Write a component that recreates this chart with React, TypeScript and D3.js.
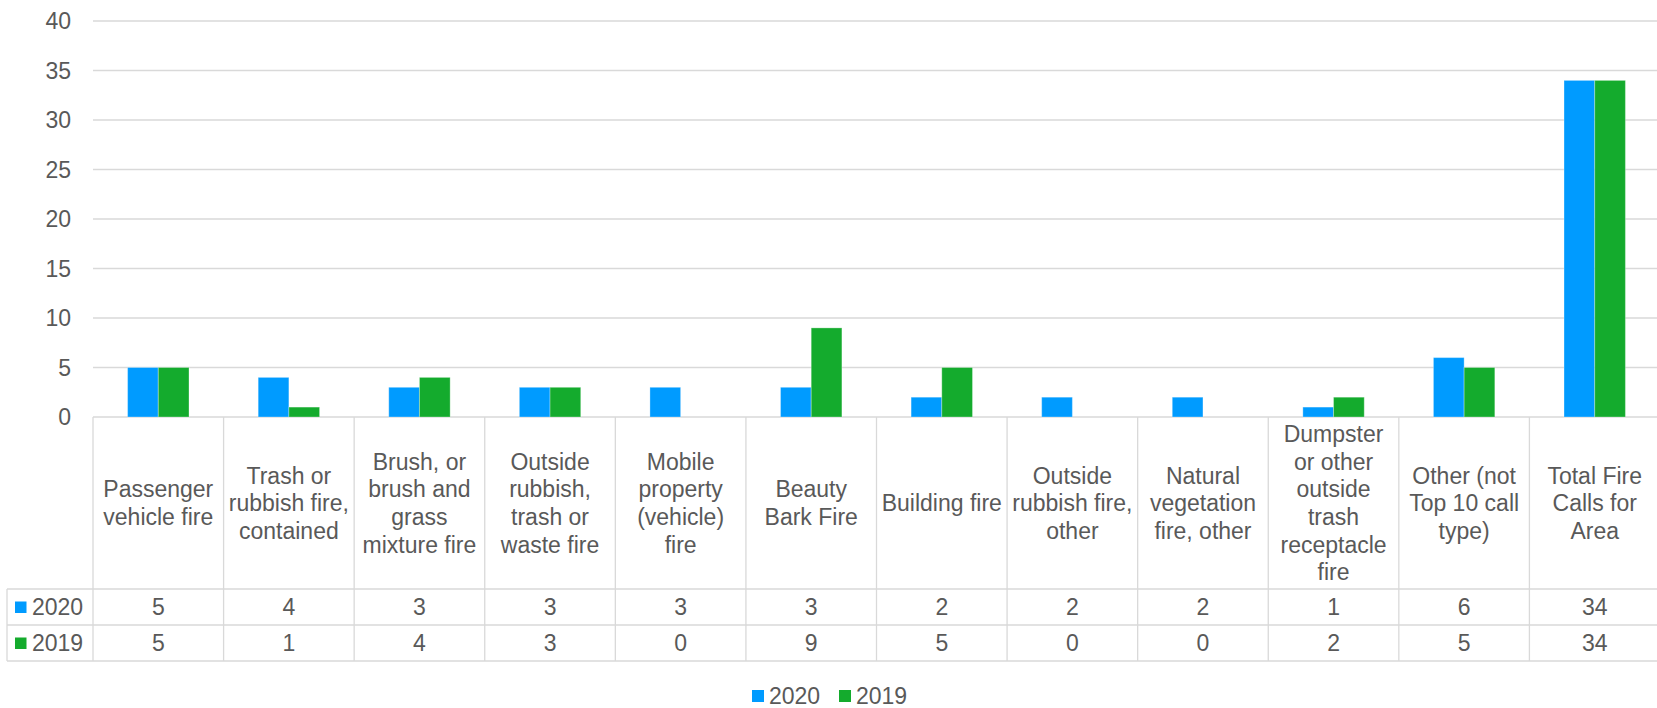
import { useEffect, useRef } from 'react';
import * as d3 from 'd3';

// category labels, already split into lines as they wrap in the original
const categories: string[][] = [
  ['Passenger', 'vehicle fire'],
  ['Trash or', 'rubbish fire,', 'contained'],
  ['Brush, or', 'brush and', 'grass', 'mixture fire'],
  ['Outside', 'rubbish,', 'trash or', 'waste fire'],
  ['Mobile', 'property', '(vehicle)', 'fire'],
  ['Beauty', 'Bark Fire'],
  ['Building fire'],
  ['Outside', 'rubbish fire,', 'other'],
  ['Natural', 'vegetation', 'fire, other'],
  ['Dumpster', 'or other', 'outside', 'trash', 'receptacle', 'fire'],
  ['Other (not', 'Top 10 call', 'type)'],
  ['Total Fire', 'Calls for', 'Area'],
];

const seriesNames = ['2020', '2019'];
const values2020 = [5, 4, 3, 3, 3, 3, 2, 2, 2, 1, 6, 34];
const values2019 = [5, 1, 4, 3, 0, 9, 5, 0, 0, 2, 5, 34];
const seriesColors = ['#009BFF', '#14AB2D'];
const yTicks = [0, 5, 10, 15, 20, 25, 30, 35, 40];

const App = () => {
  const svgRef = useRef<SVGSVGElement>(null);

  useEffect(() => {
    if (!svgRef.current) return;
    const svg = d3.select(svgRef.current);
    svg.selectAll('*').remove();

    const font = '"Liberation Sans", Arial, sans-serif';
    const textColor = '#595959';
    const gridColor = '#D9D9D9';
    const fontSize = 23;
    const lineH = 27.7;

    const left = 93;
    const right = 1660;
    const tableLeft = 7;
    const labelTop = 417;
    const row1 = 589;
    const row2 = 625;
    const tableBottom = 661;

    const keys = categories.map((_, i) => String(i));
    const series = [values2020, values2019];

    const x0 = d3.scaleBand().domain(keys).range([left, right]).padding(0);
    const bw = x0.bandwidth();
    const x1 = d3
      .scaleBand()
      .domain(seriesNames)
      .range([34.6, bw - 34.6])
      .padding(0);
    const y = d3.scaleLinear().domain([0, 40]).range([labelTop, 21]);

    // gridlines
    svg
      .selectAll('.grid')
      .data(yTicks)
      .enter()
      .append('line')
      .attr('x1', left)
      .attr('x2', right)
      .attr('y1', (d) => y(d))
      .attr('y2', (d) => y(d))
      .attr('stroke', gridColor)
      .attr('stroke-width', 1.3);

    svg
      .selectAll('.ytick')
      .data(yTicks)
      .enter()
      .append('text')
      .attr('x', 71)
      .attr('y', (d) => y(d) + 8.2)
      .attr('text-anchor', 'end')
      .attr('font-family', font)
      .attr('font-size', fontSize)
      .attr('fill', textColor)
      .text((d) => d);

    // bars
    seriesNames.forEach((name, si) => {
      svg
        .selectAll(`.bar-${name}`)
        .data(series[si])
        .enter()
        .append('rect')
        .attr('x', (_, i) => x0(keys[i])! + x1(name)!)
        .attr('y', (d) => y(d))
        .attr('width', x1.bandwidth())
        .attr('height', (d) => y(0) - y(d))
        .attr('fill', seriesColors[si])
        .attr('stroke', '#ffffff')
        .attr('stroke-opacity', 0.3)
        .attr('stroke-width', 1);
    });

    // table lines
    const g = svg.append('g').attr('stroke', gridColor).attr('stroke-width', 1.3);
    [row1, row2, tableBottom].forEach((yy) => {
      g.append('line').attr('x1', tableLeft).attr('x2', right).attr('y1', yy).attr('y2', yy);
    });
    g.append('line').attr('x1', tableLeft).attr('x2', tableLeft).attr('y1', row1).attr('y2', tableBottom);
    keys.forEach((k) => {
      g.append('line')
        .attr('x1', x0(k)!)
        .attr('x2', x0(k)!)
        .attr('y1', labelTop)
        .attr('y2', tableBottom);
    });

    // category labels
    const labelCenter = (labelTop + row1) / 2;
    categories.forEach((lines, i) => {
      const cx = x0(keys[i])! + bw / 2;
      const t = svg
        .append('text')
        .attr('text-anchor', 'middle')
        .attr('font-family', font)
        .attr('font-size', fontSize)
        .attr('fill', textColor);
      const firstBase = labelCenter - ((lines.length - 1) * lineH) / 2 + 8.2;
      lines.forEach((ln, li) => {
        t.append('tspan')
          .attr('x', cx)
          .attr('y', firstBase + li * lineH)
          .text(ln);
      });
    });

    // data table rows
    const rowTops = [row1, row2];
    seriesNames.forEach((name, si) => {
      const mid = (rowTops[si] + rowTops[si] + 36) / 2;
      svg
        .append('rect')
        .attr('x', 15)
        .attr('y', mid - 5.5)
        .attr('width', 11.5)
        .attr('height', 11.5)
        .attr('fill', seriesColors[si]);
      svg
        .append('text')
        .attr('x', 32)
        .attr('y', mid + 8.2)
        .attr('font-family', font)
        .attr('font-size', fontSize)
        .attr('fill', textColor)
        .text(name);
      svg
        .selectAll(`.val-${name}`)
        .data(series[si])
        .enter()
        .append('text')
        .attr('x', (_, i) => x0(keys[i])! + bw / 2)
        .attr('y', mid + 8.2)
        .attr('text-anchor', 'middle')
        .attr('font-family', font)
        .attr('font-size', fontSize)
        .attr('fill', textColor)
        .text((d) => d);
    });

    // bottom legend
    const legendX = [752, 839];
    seriesNames.forEach((name, si) => {
      svg
        .append('rect')
        .attr('x', legendX[si])
        .attr('y', 690)
        .attr('width', 12)
        .attr('height', 12)
        .attr('fill', seriesColors[si]);
      svg
        .append('text')
        .attr('x', legendX[si] + 17)
        .attr('y', 704)
        .attr('font-family', font)
        .attr('font-size', fontSize)
        .attr('fill', textColor)
        .text(name);
    });
  }, []);

  return (
    <svg
      ref={svgRef}
      width={1657}
      height={708}
      style={{ position: 'absolute', left: 0, top: 0, background: '#fff' }}
    ></svg>
  );
};

export default App;
